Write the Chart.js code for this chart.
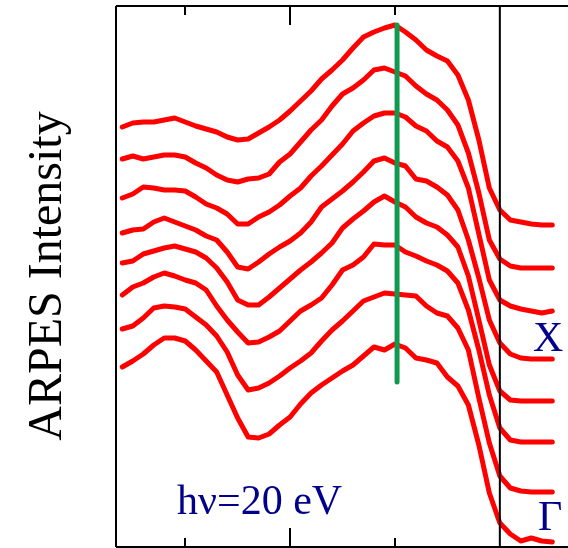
<!DOCTYPE html>
<html>
<head>
<meta charset="utf-8">
<script src="https://cdn.jsdelivr.net/npm/chart.js@4.4.1/dist/chart.umd.min.js"></script>
<style>
  html, body { margin: 0; padding: 0; background: #fff; }
  canvas { display: block; }
</style>
</head>
<body>
<canvas id="arpesChart" width="568" height="548"></canvas>
<script>
// ─── Data (binding energy in eV, intensity in arb. units with offsets) ───
const energies = [-0.36, -0.35, -0.34, -0.33, -0.32, -0.31, -0.30, -0.29, -0.28, -0.27,
                  -0.26, -0.25, -0.24, -0.23, -0.22, -0.21, -0.20, -0.19, -0.18, -0.17,
                  -0.16, -0.15, -0.14, -0.13, -0.12, -0.11, -0.10, -0.09, -0.08, -0.07,
                  -0.06, -0.05, -0.04, -0.03, -0.02, -0.01, 0.00, 0.01, 0.02, 0.03,
                  0.04, 0.05];

const edc1 = [420, 424, 425, 425, 427, 429, 425, 421, 418, 415, 410, 407, 408, 414, 420, 427, 436, 446, 456, 468,
              477, 487, 499, 510, 515, 519, 522, 515, 507, 497, 491, 486, 472, 447, 407, 359, 337, 327, 325, 323, 322, 322];
const edc2 = [388, 391, 388, 390, 392, 392, 390, 384, 379, 372, 367, 365, 368, 369, 373, 385, 393, 405, 417, 427,
              441, 453, 459, 467, 477, 479, 475, 471, 461, 453, 447, 437, 422, 394, 354, 307, 288, 281, 279, 279, 279, 279];
const edc3 = [349, 353, 360, 359, 357, 357, 356, 350, 343, 339, 333, 323, 323, 330, 335, 342, 351, 359, 371, 381,
              392, 403, 416, 424, 431, 434, 434, 430, 421, 416, 406, 400, 386, 359, 313, 267, 247, 241, 238, 236, 234, 236];
const edc4 = [314, 317, 318, 325, 329, 325, 321, 317, 311, 307, 295, 280, 278, 285, 293, 300, 306, 314, 325, 340,
              348, 356, 365, 375, 386, 389, 384, 381, 368, 366, 360, 352, 337, 307, 269, 227, 204, 193, 189, 188, 188, 188];
const edc5 = [284, 286, 293, 296, 299, 301, 298, 295, 289, 279, 265, 247, 242, 242, 250, 259, 268, 277, 285, 294,
              304, 319, 328, 336, 345, 351, 345, 340, 330, 324, 320, 312, 300, 271, 227, 182, 156, 147, 146, 146, 146, 146];
const edc6 = [252, 260, 264, 270, 274, 271, 267, 264, 257, 241, 227, 215, 204, 205, 210, 216, 226, 236, 242, 249,
              262, 277, 282, 290, 303, 302, 302, 295, 291, 286, 282, 276, 264, 237, 197, 152, 119, 107, 105, 105, 105, 105];
const edc7 = [218, 221, 229, 239, 241, 240, 238, 230, 222, 211, 195, 172, 157, 159, 164, 171, 179, 186, 194, 206,
              217, 226, 236, 246, 250, 254, 253, 252, 251, 241, 234, 231, 219, 197, 149, 104, 71, 59, 56, 55, 55, 55];
const edc8 = [180, 186, 193, 202, 209, 209, 206, 197, 186, 175, 152, 129, 110, 109, 113, 122, 130, 143, 154, 162,
              169, 176, 182, 191, 200, 197, 203, 199, 189, 187, 184, 170, 161, 142, 102, 54, 24, 13, 6, 9, 6, 5];

const edcCurves = [edc1, edc2, edc3, edc4, edc5, edc6, edc7, edc8];

const tickEnergies = [-0.3, -0.2, -0.1];
const majorTick = -0.2;
const fermiEnergy = 0;

// green marker line (peak position)
const markerEnergy = -0.098;
const markerRange = [165, 522];

const yTitle = 'ARPES Intensity';
const photonLabel = 'hν=20 eV';
const topPointLabel = 'X';
const bottomPointLabel = 'Γ';

// ─── Datasets ───
const datasets = edcCurves.map((vals, i) => ({
    label: 'EDC ' + (i + 1),
    data: vals.map((v, k) => ({ x: energies[k], y: v })),
    borderColor: '#ff0000',
    borderWidth: 5,
    borderJoinStyle: 'round',
    borderCapStyle: 'round',
    pointRadius: 0,
    tension: 0,
    order: 2
}));

datasets.push({
    label: 'peak',
    data: markerRange.map(v => ({ x: markerEnergy, y: v })),
    borderColor: '#119a4f',
    borderWidth: 5,
    borderCapStyle: 'round',
    pointRadius: 0,
    order: 1
});

// ─── Frame, ticks and labels ───
const framePlugin = {
    id: 'frame',
    afterDraw(chart) {
        const { ctx, chartArea: a, scales: { x } } = chart;
        ctx.save();
        ctx.strokeStyle = '#000';
        ctx.lineWidth = 2;
        ctx.beginPath();
        ctx.moveTo(a.left, a.top);    ctx.lineTo(chart.width, a.top);
        ctx.moveTo(a.left, a.top);    ctx.lineTo(a.left, a.bottom);
        ctx.moveTo(a.left, a.bottom); ctx.lineTo(chart.width, a.bottom);
        const xf = x.getPixelForValue(fermiEnergy);
        ctx.moveTo(xf, a.top); ctx.lineTo(xf, a.bottom);
        tickEnergies.forEach(e => {
            const len = e === majorTick ? 19 : 9;
            const px = Math.round(x.getPixelForValue(e));
            ctx.moveTo(px, a.top);    ctx.lineTo(px, a.top + len);
            ctx.moveTo(px, a.bottom); ctx.lineTo(px, a.bottom - len);
        });
        ctx.stroke();

        // y title
        ctx.fillStyle = '#000';
        ctx.font = '48px "Liberation Serif", "Times New Roman", serif';
        ctx.textAlign = 'center';
        ctx.textBaseline = 'alphabetic';
        ctx.translate(61, 276);
        ctx.rotate(-Math.PI / 2);
        ctx.fillText(yTitle, 0, 0);
        ctx.setTransform(1, 0, 0, 1, 0, 0);

        // annotations
        ctx.fillStyle = '#00008b';
        ctx.font = '42px "Liberation Serif", "Times New Roman", serif';
        ctx.textAlign = 'left';
        ctx.fillText(photonLabel, 177, 514);
        ctx.fillText(topPointLabel, 533, 351);
        ctx.fillText(bottomPointLabel, 538, 530);
        ctx.restore();
    }
};

// ─── Chart ───
new Chart(document.getElementById('arpesChart').getContext('2d'), {
    type: 'line',
    data: { datasets },
    options: {
        responsive: false,
        animation: false,
        layout: { padding: { left: 116, top: 6, right: 0, bottom: 1 } },
        plugins: { legend: { display: false }, tooltip: { enabled: false } },
        scales: {
            x: { type: 'linear', display: false, min: -0.366, max: 0.065 },
            y: { type: 'linear', display: false, min: 0, max: 541 }
        }
    },
    plugins: [framePlugin]
});
</script>
</body>
</html>
